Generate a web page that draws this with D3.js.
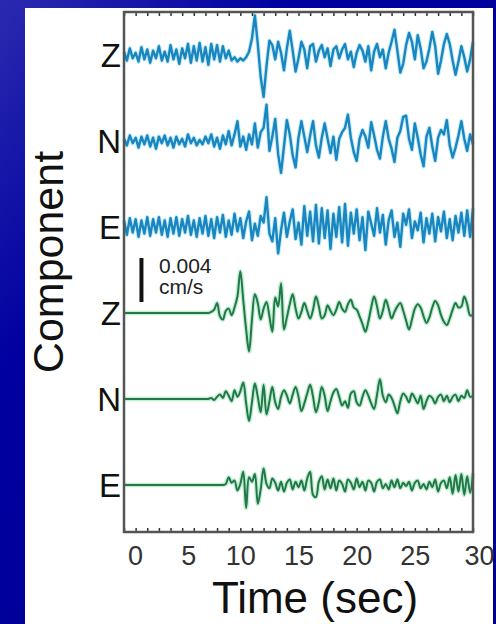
<!DOCTYPE html>
<html>
<head>
<meta charset="utf-8">
<script src="https://cdn.jsdelivr.net/npm/d3@7"></script>
<style>
body { margin: 0; background: #000099; }
svg { display: block; }
text { font-family: "Liberation Sans", Arial, sans-serif; }
</style>
</head>
<body>
<svg></svg>
<script>
// component labels, top to bottom
let components = ['Z', 'N', 'E', 'Z', 'N', 'E']
let timeTicks = [0, 5, 10, 15, 20, 25, 30]
let sampleStep = 0.25 // seconds between samples

// velocity, units of 0.001 cm/s, one value every 0.25 s from 0 to 30 s
let blueZ = [0.3,-0.5,0.6,-0.3,0.2,-0.6,0.7,-0.4,0.5,
  -0.7,0.4,-0.3,0.8,-0.5,0.3,-0.6,0.9,
  -0.4,0.5,-0.8,0.6,-0.3,1.0,-0.7,0.8,
  -0.5,1.1,-0.6,0.7,-0.9,1.0,-0.4,0.9,
  -0.6,0.8,-0.3,0.4,-0.5,-0.2,-0.6,-0.3,
  -0.5,-0.2,0.3,1.5,3.6,1.0,-2.0,-3.8,
  -1.0,1.3,0.9,-0.4,1.2,0.2,-1.4,0.6,
  2.2,0.4,-1.5,-0.3,1.2,0.5,-1.2,0.8,
  1.0,-0.6,0.4,0.9,-0.2,0.6,-1.0,0.5,
  0.8,-0.3,0.5,1.0,-0.4,0.3,-1.1,0.2,
  0.9,0.4,-0.6,0.8,-1.4,0.3,1.0,-0.2,
  0.5,-1.2,0.2,1.2,2.3,0.4,-1.6,-0.8,
  0.9,2.0,1.2,-0.4,1.8,0.6,-1.2,-0.6,
  0.6,2.1,0.8,-1.7,-0.5,1.0,1.9,1.0,
  -0.5,-1.8,-0.6,0.8,-0.2,-1.5,-0.4,1.2]

let blueN = [0.2,-0.4,0.5,-0.2,0.3,-0.6,0.4,-0.3,0.5,
  -0.5,0.3,-0.7,0.4,-0.2,0.5,-0.4,0.3,
  -0.6,0.4,-0.3,0.2,-0.5,0.6,-0.2,0.3,
  -0.4,0.1,-0.3,0.4,-0.2,0.6,-0.5,0.3,
  -0.7,0.5,-0.3,0.9,-0.4,0.6,1.8,-0.5,
  0.4,-0.8,0.6,-0.3,1.6,-0.6,0.8,1.2,
  3.3,-0.9,0.4,2.0,-1.2,-2.9,-0.5,1.9,
  0.6,-1.3,-2.4,0.3,1.8,0.4,-1.0,0.5,
  1.8,-0.4,-1.5,0.3,1.6,0.2,-1.1,0.4,
  -1.7,0.2,0.8,1.2,2.4,0.3,-1.0,-1.8,
  0.2,1.0,0.4,-0.6,1.7,0.5,-0.8,-1.6,
  0.4,1.8,0.2,-0.7,-1.9,0.3,0.9,2.2,
  2.3,0.2,-0.8,1.6,0.3,-1.2,-2.3,0.4,
  1.2,-0.5,-1.8,0.3,1.0,0.6,1.9,-0.4,
  -1.5,-0.6,0.5,1.8,0.2,-0.9,0.6,-0.3]

let blueE = [0.6,-0.7,0.8,-0.5,0.7,-0.9,0.6,-0.6,0.9,
  -0.8,0.7,-0.5,0.9,-0.7,0.6,-0.9,0.8,
  -0.6,0.9,-0.8,0.7,-0.5,1.0,-0.7,0.6,
  -0.9,0.8,-0.6,1.0,-0.8,0.7,-1.0,0.9,
  -0.5,1.1,-0.9,0.6,-0.7,1.2,-0.4,0.8,
  -1.0,0.5,1.4,-1.2,0.3,-0.8,1.0,0.4,
  2.7,-0.6,-1.3,0.8,-2.4,-0.3,1.3,-0.9,
  0.5,1.6,-1.1,0.4,-1.6,1.9,-0.8,1.4,
  -1.3,2.0,-1.5,1.7,-1.0,1.5,-2.0,1.2,
  -0.9,1.8,-1.4,2.1,-1.7,1.3,-0.6,1.6,
  -1.2,0.9,-2.1,1.4,0.3,-0.8,1.7,-0.5,
  1.1,-1.6,0.6,1.5,-0.9,0.4,-1.8,1.2,
  0.2,1.6,-1.0,0.5,-0.3,1.3,-1.4,0.8,
  -0.6,1.2,-1.3,0.9,-0.4,1.4,-1.0,0.7,
  -1.2,1.0,-0.5,1.3,-0.8,1.5,-0.9,1.7]

let greenZ = [0,0,0,0,0,0,0,0,0,
  0,0,0,0,0,0,0,0,
  0,0,0,0,0,0,0,0,
  0,0,0,0,0,0.1,0.3,0.9,
  -0.3,-0.6,0.2,0.4,-0.2,0.5,1.5,3.8,
  1.2,-1.5,-3.5,-0.6,1.7,0.9,-0.6,0.4,
  1.0,-0.3,-1.7,1.4,0.6,2.7,-1.5,-0.4,
  0.8,1.7,0.4,-0.5,0.1,0.9,0.2,-0.5,
  0.3,1.5,0.6,-0.5,-0.2,0.7,0.2,-0.2,
  0.3,1.0,0.4,0.1,0.8,1.2,0.5,0.3,
  -0.3,-1.0,-1.7,-0.8,0.5,1.5,0.6,-0.5,
  0.2,1.2,0.4,-0.5,0.1,0.6,0.9,0.2,
  -0.7,-1.5,-0.6,0.4,0.8,0.5,-0.3,-0.9,
  -0.4,0.5,1.1,0.7,-0.2,-0.8,-1.1,-0.5,
  0.3,0.9,0.5,0.6,1.5,0.8,-0.2,-0.2]

let greenN = [0,0,0,0,0,0,0,0,0,
  0,0,0,0,0,0,0,0,
  0,0,0,0,0,0,0,0,
  0,0,0,0,0,0.1,-0.1,0.2,
  0.4,0.1,0.7,0.3,-0.2,0.8,0.2,0.7,
  1.5,-0.4,-2.0,-0.3,1.4,0.2,-1.2,1.3,
  -1.4,-0.2,1.1,-0.3,-0.9,0.2,0.8,0.3,
  -0.4,0.4,1.1,0.2,-1.1,-0.4,0.5,1.3,
  0.2,-1.2,-0.3,1.1,0.3,-1.1,-0.2,0.6,
  0.9,0.2,-0.6,-0.2,-0.8,0.5,0.7,-0.3,
  -0.6,0.2,0.8,0.3,-0.4,-0.9,0.4,1.8,
  0.3,-0.3,0.4,0.1,-0.6,-1.3,-0.2,0.5,
  0.2,-0.3,0.5,0.1,-0.4,0.3,-0.9,-0.2,
  0.3,0.1,-0.4,0.2,0.4,-0.2,0.3,-0.3,
  0.2,0.4,-0.2,0.3,0.1,0.8,0.2,0.3]

let greenE = [0,0,0,0,0,0,0,0,0,
  0,0,0,0,0,0,0,0,
  0,0,0,0,0,0,0,0,
  0,0,0,0,0,0,0,0,
  0,0,0.1,0.7,0.2,0.4,-0.5,0.1,
  1.2,-2.1,0.7,0.3,1.0,-1.7,-0.4,1.5,
  0.1,-0.3,0.6,0.2,-0.5,0.3,-0.6,0.2,
  0.5,-0.4,0.3,-0.2,0.4,-0.5,0.6,1.2,
  -0.9,-1.1,0.3,0.8,-0.4,0.5,-0.3,0.6,
  -0.5,0.4,0.1,-0.6,0.5,0.2,-0.4,0.6,
  -0.2,0.3,-0.5,0.4,0.2,-0.6,0.3,0.5,
  -0.3,0.1,-0.4,0.4,-0.2,0.5,-0.3,0.2,
  -0.1,0.3,-0.5,0.2,0.4,-0.3,0.1,-0.4,
  0.3,-0.2,0.5,-0.6,0.2,0.4,-0.3,0.7,
  -0.8,0.9,-0.6,1.0,-0.9,0.8,-0.7,1.1]

let traces = [blueZ, blueN, blueE, greenZ, greenN, greenE]
let scaleBarValue = 4 // 0.004 cm/s

let width = 496
let height = 624

let svg = d3.select('svg').attr('width', width).attr('height', height)

let xScale, rowScale, ampScale

let generateScales = () => {
    xScale = d3.scaleLinear().domain([0, 30]).range([124, 473])
    rowScale = d3.scalePoint().domain(d3.range(components.length)).range([55, 485])
    ampScale = d3.scaleLinear().domain([-4, 4]).range([44, -44])
}

let drawBackground = () => {
    let grad = svg.append('defs').append('linearGradient')
        .attr('id', 'bg').attr('x1', 0).attr('y1', 0).attr('x2', 1).attr('y2', 1)
    grad.append('stop').attr('offset', 0).attr('stop-color', '#2a2ab0')
    grad.append('stop').attr('offset', 0.3).attr('stop-color', '#0000a0')
    grad.append('stop').attr('offset', 1).attr('stop-color', '#000090')
    svg.append('rect').attr('width', width).attr('height', height).attr('fill', 'url(#bg)')
    svg.append('rect').attr('x', 25).attr('y', 8).attr('width', 468).attr('height', height - 8)
        .attr('fill', '#ffffff')
}

let drawTraces = () => {
    traces.forEach((values, i) => {
        let blue = i < 3
        let line = d3.line()
            .x((d, j) => xScale(j * sampleStep))
            .y(d => rowScale(i) + ampScale(d))
            .curve(blue ? d3.curveLinear : d3.curveCatmullRom.alpha(0.5))
        svg.append('path')
            .attr('d', line(values))
            .attr('fill', 'none')
            .attr('stroke', blue ? '#8fd8f0' : '#7fe0a0')
            .attr('stroke-width', 4.5)
            .attr('stroke-opacity', 0.5)
            .attr('stroke-linejoin', 'round')
        svg.append('path')
            .attr('d', line(values))
            .attr('fill', 'none')
            .attr('stroke', blue ? '#1a86bf' : '#24774a')
            .attr('stroke-width', blue ? 2.4 : 2)
            .attr('stroke-linejoin', 'round')
    })
}

let drawAxes = () => {
    let y0 = 12
    let y1 = 532
    let topAxis = d3.axisTop(xScale).tickValues(d3.range(0, 31)).tickSize(-4).tickFormat('')
    let bottomAxis = d3.axisBottom(xScale).tickValues(d3.range(0, 31)).tickSize(-4).tickFormat('')
    svg.append('g').attr('transform', 'translate(0,' + y0 + ')').call(topAxis)
    svg.append('g').attr('transform', 'translate(0,' + y1 + ')').call(bottomAxis)
    svg.selectAll('.domain').remove()
    svg.selectAll('.tick line').attr('stroke', '#333').attr('stroke-width', 1.5)

    svg.append('rect')
        .attr('x', xScale(0)).attr('y', y0)
        .attr('width', xScale(30) - xScale(0)).attr('height', y1 - y0)
        .attr('fill', 'none').attr('stroke', '#555').attr('stroke-width', 2.5)

    // tick labels
    let labelAxis = d3.axisBottom(xScale).tickValues(timeTicks).tickSize(0).tickPadding(0)
    let g = svg.append('g').attr('transform', 'translate(0,' + 546 + ')').call(labelAxis)
    g.select('.domain').remove()
    g.selectAll('text')
        .attr('font-size', 27).attr('fill', '#333')
        .attr('font-family', '"Liberation Sans", Arial, sans-serif')
        .attr('dx', d => d === 0 ? 11 : d === 5 ? 6 : d === 30 ? 6 : 0)

    // component labels
    svg.append('g').selectAll('text').data(components).join('text')
        .attr('x', 121)
        .attr('y', (d, i) => rowScale(i) + 12)
        .attr('text-anchor', 'end')
        .attr('font-size', 33)
        .attr('fill', '#111')
        .text(d => d)

    svg.append('text')
        .attr('transform', 'translate(63,262) rotate(-90)')
        .attr('text-anchor', 'middle')
        .attr('font-size', 43)
        .attr('fill', '#111')
        .text('Component')

    svg.append('text')
        .attr('x', 315).attr('y', 613)
        .attr('text-anchor', 'middle')
        .attr('font-size', 44)
        .attr('fill', '#111')
        .text('Time (sec)')
}

let drawScaleBar = () => {
    let bx = xScale(1.5)
    let base = rowScale(3)
    svg.append('line')
        .attr('x1', bx).attr('x2', bx)
        .attr('y1', base + ampScale(1)).attr('y2', base + ampScale(1 + scaleBarValue))
        .attr('stroke', '#111').attr('stroke-width', 4)
    svg.append('text').attr('x', 159).attr('y', 273).attr('font-size', 21).attr('fill', '#222')
        .text('0.004')
    svg.append('text').attr('x', 159).attr('y', 294).attr('font-size', 21).attr('fill', '#222')
        .text('cm/s')
}

generateScales()
drawBackground()
drawTraces()
drawAxes()
drawScaleBar()
</script>
</body>
</html>
